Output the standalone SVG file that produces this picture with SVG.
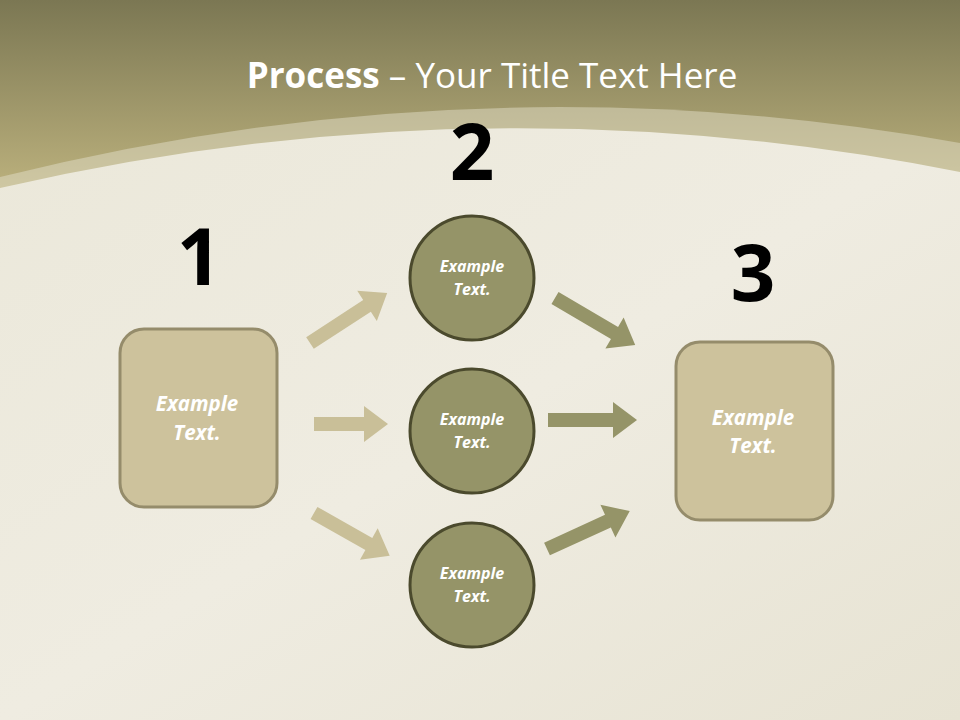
<svg xmlns="http://www.w3.org/2000/svg" width="960" height="720" viewBox="0 0 960 720">
<defs>
<linearGradient id="sky" gradientUnits="userSpaceOnUse" x1="0" y1="0" x2="0" y2="200">
<stop offset="0" stop-color="#7b7753"/>
<stop offset="1" stop-color="#bfb47f"/>
</linearGradient>
<linearGradient id="paper" x1="0" y1="0" x2="1" y2="1">
<stop offset="0" stop-color="#ebe8da"/>
<stop offset="0.5" stop-color="#efece1"/>
<stop offset="1" stop-color="#e7e3d3"/>
</linearGradient>
<style>
.box{fill:#cdc29c;stroke:#958c6b;stroke-width:3}
.circ{fill:#959468;stroke:#4b4a2d;stroke-width:3}
.lbl{font-family:"Open Sans","Liberation Sans",sans-serif;font-weight:bold;font-style:italic;fill:#ffffff;text-anchor:middle}
.big{font-size:20.5px}
.small{font-size:16px}
.num{font-family:"Open Sans","Liberation Sans",sans-serif;font-weight:bold;font-size:78px;fill:#000000;text-anchor:middle}
.aL{fill:#c9bf98}
.aR{fill:#959468}
</style>
</defs>
<rect x="0" y="0" width="960" height="720" fill="url(#sky)"/>
<path d="M0,177 Q480,57 960,143 V720 H0 Z" fill="#e2ddc8" opacity="0.5"/>
<path d="M0,188 Q480,77 960,172 V720 H0 Z" fill="url(#paper)"/>
<text x="492" y="88" font-family="'Open Sans','Liberation Sans',sans-serif" font-size="35" fill="#ffffff" text-anchor="middle"><tspan font-weight="bold">Process</tspan> – Your Title Text Here</text>

<g id="connectors">
<path class="aL" transform="translate(310,343) rotate(-33)" d="M0,-7 H68 V-18 L92,0 L68,18 V7 H0 Z"/>
<path class="aL" transform="translate(314,424)" d="M0,-7 H50 V-18 L74,0 L50,18 V7 H0 Z"/>
<path class="aL" transform="translate(314,513) rotate(29.5)" d="M0,-7 H63 V-18 L87,0 L63,18 V7 H0 Z"/>
<path class="aR" transform="translate(555,298) rotate(30.4)" d="M0,-7 H69 V-18 L93,0 L69,18 V7 H0 Z"/>
<path class="aR" transform="translate(548,420)" d="M0,-7 H65 V-18 L89,0 L65,18 V7 H0 Z"/>
<path class="aR" transform="translate(547,549) rotate(-24.6)" d="M0,-7 H67 V-18 L91,0 L67,18 V7 H0 Z"/>
</g>

<g id="num1"><text class="num" x="199" y="285">1</text></g>
<g id="num2"><text class="num" x="472" y="180">2</text></g>
<g id="num3"><text class="num" x="753" y="301">3</text></g>

<g id="box1">
<rect class="box" x="120" y="329" width="157" height="178" rx="24"/>
<text class="lbl big" x="197" y="411">Example</text>
<text class="lbl big" x="197" y="440">Text.</text>
</g>
<g id="circle1">
<circle class="circ" cx="472" cy="278" r="62"/>
<text class="lbl small" x="472" y="272">Example</text>
<text class="lbl small" x="472" y="295">Text.</text>
</g>
<g id="circle2">
<circle class="circ" cx="472" cy="431" r="62"/>
<text class="lbl small" x="472" y="425">Example</text>
<text class="lbl small" x="472" y="448">Text.</text>
</g>
<g id="circle3">
<circle class="circ" cx="472" cy="585" r="62"/>
<text class="lbl small" x="472" y="579">Example</text>
<text class="lbl small" x="472" y="602">Text.</text>
</g>
<g id="box3">
<rect class="box" x="676" y="342" width="157" height="178" rx="24"/>
<text class="lbl big" x="753" y="425">Example</text>
<text class="lbl big" x="753" y="453">Text.</text>
</g>
</svg>
